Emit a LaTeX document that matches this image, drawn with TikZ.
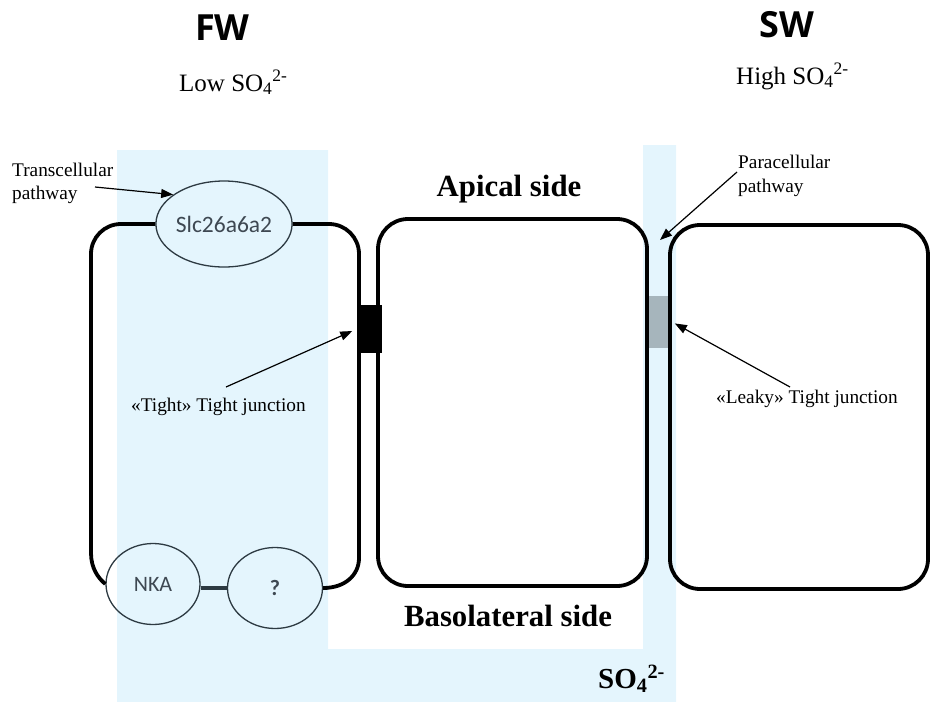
\documentclass[tikz,border=0pt]{standalone}
\usepackage{fontspec}
\setmainfont{Liberation Serif}
\newfontfamily\calfont{Carlito}
\newfontfamily\headfont{Open Sans}
\usetikzlibrary{arrows.meta,shapes.geometric}
\definecolor{fluid}{RGB}{228,245,253}
\definecolor{leak}{RGB}{166,181,188}
\definecolor{protline}{RGB}{45,58,66}
\definecolor{prottext}{RGB}{62,72,82}
\newcommand{\sulf}{SO\textsubscript{4}\textsuperscript{2-}}
\begin{document}
\begin{tikzpicture}[x=1pt,y=-1pt,
  cell/.style={line width=3.8pt, black},
  prot/.style={ellipse, draw=protline, line width=1.3pt, inner sep=0pt,
    font=\calfont\fontsize{22}{24}\selectfont, text=prottext},
  junc/.style={inner sep=0pt, draw=none},
  lbl/.style={inner sep=0pt, anchor=base west, font=\fontsize{19.3}{22}\selectfont},
  conc/.style={inner sep=0pt, anchor=base west, font=\fontsize{25}{28}\selectfont},
  head/.style={inner sep=0pt, anchor=base west, font=\headfont\bfseries\fontsize{36}{40}\selectfont},
  side/.style={inner sep=0pt, anchor=base, font=\bfseries\fontsize{30.8}{34}\selectfont},
  pointer/.style={line width=1.2pt, -{Triangle[length=12pt,width=9pt]}}
]
\useasboundingbox (0,0) rectangle (930,702);
% extracellular fluid
\fill[fluid] (117,150) -- (328,150) -- (328,649) -- (643,649) -- (643,145)
  -- (676,145) -- (676,702) -- (117,702) -- cycle;
% junctions
\node[junc, fill=leak, minimum width=25pt, minimum height=52pt] (leaky) at (659.5,322) {};
% proteins
\node[prot, minimum width=98pt, minimum height=86pt, font=\calfont\fontsize{23.5}{26}\selectfont] (slc) at (224,224) {Slc26a6a2};
\node[prot, minimum width=94pt, minimum height=81pt] (nka) at (153,584) {NKA};
\node[prot, minimum width=95pt, minimum height=81pt, font=\calfont\bfseries\fontsize{22}{24}\selectfont] (q) at (275,588) {?};
% left cell
\draw[cell] (slc.west) -- (121,224) .. controls (104.4,224) and (91,237.4) .. (91,254)
  -- (91,553) .. controls (91,568) and (98,578) .. (nka.west);
\draw[cell] (slc.east) -- (329,224) .. controls (345.6,224) and (359,237.4) .. (359,254)
  -- (359,558) .. controls (359,575) and (345,588) .. (q.east);
\draw[line width=3.5pt, protline] (q.west) -- (q.west -| nka.east);
% middle and right cells
\draw[cell, rounded corners=30pt] (378,219) rectangle (647,586);
\draw[cell, rounded corners=30pt] (670,225) rectangle (928,589);
\node[junc, fill=black, minimum width=25pt, minimum height=48pt] (tight) at (369.5,329) {};
% headings
\node[head] (fw) at (195,40) {FW};
\node[head] (sw) at (759,37) {SW};
\node[conc] (low) at (179,91) {Low \sulf};
\node[conc] (high) at (736,84) {High \sulf};
\node[side] (apical) at (509,196) {Apical side};
\node[side] (baso) at (508,626) {Basolateral side};
\node[inner sep=0pt, anchor=base west, font=\bfseries\fontsize{29}{32}\selectfont] (so4) at (598,688) {\sulf};
% labels
\node[lbl] (trans1) at (12,176) {Transcellular};
\node[lbl] (trans2) at (12,199) {pathway};
\node[lbl] (para1) at (738,168) {Paracellular};
\node[lbl] (para2) at (738,192) {pathway};
\node[lbl] (tightlbl) at (131,411) {«Tight» Tight junction};
\node[lbl] (leakylbl) at (716,403) {«Leaky» Tight junction};
% arrows
\coordinate (transTail) at (95,187);
\coordinate (paraTail) at (737,172);
\coordinate (paraTip) at (660,240);
\coordinate (tightTail) at (226,387);
\coordinate (leakyTail) at (790,387);
\draw[pointer] (transTail) -- (slc.150);
\draw[pointer] (paraTail) -- (paraTip);
\draw[pointer, shorten >=5pt] (tightTail) -- (tight.west);
\draw[pointer, shorten >=3pt] (leakyTail) -- (leaky.east);
\end{tikzpicture}
\end{document}
